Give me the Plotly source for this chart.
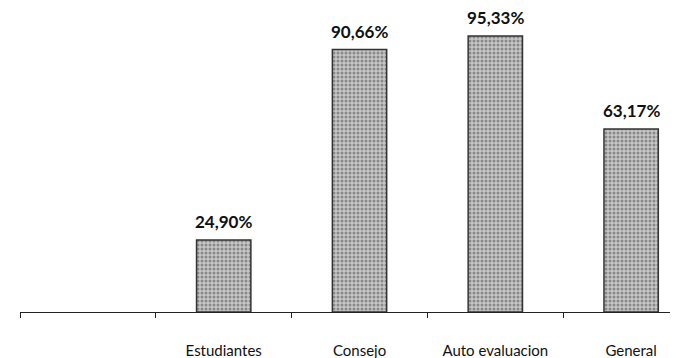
import plotly.graph_objects as go

categories = [" ", "Estudiantes", "Consejo", "Auto evaluacion", "General"]
values = [None, 24.90, 90.66, 95.33, 63.17]

fig = go.Figure(go.Bar(
    x=categories,
    y=values,
    width=0.4,
    marker=dict(
        color="#b0b0b0",
        line=dict(color="#333333", width=1.5),
        pattern=dict(shape=".", fgcolor="#4a4a4a", bgcolor="#c6c6c6", size=4, solidity=0.45),
    ),
    cliponaxis=False,
))

for c, v in zip(categories, values):
    if v is None:
        continue
    fig.add_annotation(
        x=c, y=v, text=f"{v:.2f}%".replace(".", ","),
        showarrow=False, yanchor="bottom", yshift=6,
        font=dict(family="Lato", size=17, color="#111111", weight="bold"),
    )

fig.update_layout(
    width=678, height=358,
    margin=dict(l=12, r=0, t=11, b=54),
    paper_bgcolor="white", plot_bgcolor="white",
    showlegend=False,
    xaxis=dict(
        type="category",
        range=[-0.5, 4.404],
        tickson="boundaries",
        ticks="outside", ticklen=5, tickcolor="#222", tickwidth=1,
        showline=True, linecolor="#222", linewidth=1,
        showgrid=False,
        automargin=False,
        ticklabelstandoff=25,
        tickfont=dict(family="Lato", size=15, color="#111111"),
    ),
    yaxis=dict(range=[0, 101.2], visible=False, showgrid=False, zeroline=False),
)

fig.write_html("out.html")
